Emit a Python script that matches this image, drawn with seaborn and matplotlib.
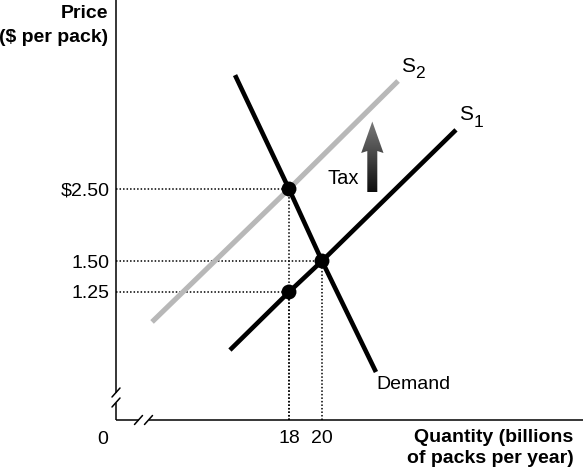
import numpy as np
import pandas as pd
import matplotlib
matplotlib.use('Agg')
import matplotlib.pyplot as plt
import seaborn as sns
from matplotlib.patches import Polygon
from matplotlib.colors import LinearSegmentedColormap

# ---------------- data ----------------
demand_q = [14.73, 18, 20, 23.27]
demand_p = [4.06, 2.50, 1.50, 0.154]
s1_q = [14.42, 18, 20, 28.12]
s1_p = [0.455, 1.25, 1.50, 3.31]
s2_q = [9.70, 18, 24.61]
s2_p = [0.84, 2.50, 3.98]
eq_q = [18, 20, 18]
eq_p = [2.50, 1.50, 1.25]
price_ticks = [1.25, 1.50, 2.50]
price_labels = ['1.25', '1.50', '$2.50']
qty_ticks = [18, 20]
qty_labels = ['18', '20']

# ---------------- style ----------------
sns.set_theme(style='white')
plt.rcParams['font.family'] = ['Liberation Sans', 'DejaVu Sans']
FS = 14

W, H = 583, 473
fig = plt.figure(figsize=(W / 100, H / 100), dpi=100)
fig.patch.set_facecolor('white')

# main axes: spine corner at pixel (116, 420)
ax = fig.add_axes([116 / W, 53 / H, (W - 116) / W, 420 / H])
ax.set_facecolor('none')

# the textbook diagram is not drawn to scale on the price axis:
# piecewise-linear price scale
kp = np.array([-10.0, 1.25, 1.50, 2.50, 10.0])
ku = np.array([128 - 73 * 11.25, 128.0, 159.0, 231.0, 231 + 73 * 7.5])
fwd = lambda p: np.interp(np.asarray(p, dtype=float), kp, ku)
inv = lambda u: np.interp(np.asarray(u, dtype=float), ku, kp)
ax.set_yscale('function', functions=(fwd, inv))

df_d = pd.DataFrame({'q': demand_q, 'p': demand_p})
df_s1 = pd.DataFrame({'q': s1_q, 'p': s1_p})
df_s2 = pd.DataFrame({'q': s2_q, 'p': s2_p})
df_eq = pd.DataFrame({'q': eq_q, 'p': eq_p})

sns.lineplot(data=df_s2, x='q', y='p', sort=False, estimator=None,
             color='#b8b8b8', lw=3.7, ax=ax, solid_capstyle='butt', zorder=2)
sns.lineplot(data=df_s1, x='q', y='p', sort=False, estimator=None,
             color='black', lw=3.3, ax=ax, solid_capstyle='butt', zorder=3)
sns.lineplot(data=df_d, x='q', y='p', sort=False, estimator=None,
             color='black', lw=3.3, ax=ax, solid_capstyle='butt', zorder=3)

xmin = 18 + (116 - 289) / 16.5
xmax = 18 + (583 - 289) / 16.5
ymin, ymax = float(inv(0)), float(inv(420))
ax.set_xlim(xmin, xmax)
ax.set_ylim(ymin, ymax)

# dotted guide lines
for q, p in zip(eq_q, eq_p):
    ax.plot([xmin, q], [p, p], color='black', lw=1.1, ls=(0, (1, 1.3)), zorder=1)
    ax.plot([q, q], [ymin, p], color='black', lw=1.1, ls=(0, (1, 1.3)), zorder=1)

sns.scatterplot(data=df_eq, x='q', y='p', s=115, color='black',
                edgecolor='none', ax=ax, zorder=5)

ax.set_xticks(qty_ticks)
ax.set_xticklabels(qty_labels)
ax.set_yticks(price_ticks)
ax.set_yticklabels(price_labels)
ax.minorticks_off()
ax.tick_params(axis='both', length=0, labelsize=FS, colors='black')
ax.tick_params(axis='y', pad=4.5)
ax.tick_params(axis='x', pad=7.5)
ax.set_xlabel('')
ax.set_ylabel('')
for s in ax.spines.values():
    s.set_visible(False)
ax.grid(False)

# ---------------- overlay in pixel units for decorations ----------------
ov = fig.add_axes([0, 0, 1, 1])
ov.set_xlim(0, W)
ov.set_ylim(H, 0)
ov.axis('off')
ov.patch.set_alpha(0)

lw_ax = 1.1
# y axis with break
ov.plot([116, 116], [0, 392.5], color='black', lw=lw_ax, solid_capstyle='butt')
ov.plot([116, 116], [402.5, 420], color='black', lw=lw_ax, solid_capstyle='butt')
for yc in (392.5, 402.5):
    ov.plot([112, 120], [yc + 4.5, yc - 4.5], color='black', lw=lw_ax)
# x axis with break
ov.plot([116, 138.5], [420, 420], color='black', lw=lw_ax, solid_capstyle='butt')
ov.plot([148.5, W], [420, 420], color='black', lw=lw_ax, solid_capstyle='butt')
for xc in (138.5, 148.5):
    ov.plot([xc - 4, xc + 4], [424.5, 415.5], color='black', lw=lw_ax)

# texts
bold = dict(fontsize=FS, fontweight='bold', color='black', va='baseline', ha='right')
ov.text(108.5, 18, 'Price', **bold)
ov.text(108.5, 41.5, '($ per pack)', **bold)
ov.text(573.5, 442, 'Quantity (billions', **bold)
ov.text(573.5, 463, 'of packs per year)', **bold)
ov.text(103, 444, '0', ha='center', va='baseline', fontsize=FS, color='black')
ov.text(376, 389, 'Demand', ha='left', va='baseline', fontsize=FS, color='black')
ov.text(328, 184, 'Tax', ha='left', va='baseline', fontsize=14.5, color='black')
ov.text(401, 72, 'S', ha='left', va='baseline', fontsize=15, color='black')
ov.text(415.5, 78.5, '2', ha='left', va='baseline', fontsize=12.5, color='black')
ov.text(459, 120, 'S', ha='left', va='baseline', fontsize=15, color='black')
ov.text(473.5, 126.5, '1', ha='left', va='baseline', fontsize=12.5, color='black')

# gradient tax arrow
arrow_pts = [(367.3, 192), (377.3, 192), (377.3, 151), (383.5, 153),
             (372.3, 121.5), (361.2, 153), (367.3, 151)]
poly = Polygon(arrow_pts, closed=True, facecolor='none', edgecolor='none')
ov.add_patch(poly)
cmap = LinearSegmentedColormap.from_list('tax', ['#7a7a7a', '#0c0c0c'])
grad = np.linspace(0, 1, 256).reshape(-1, 1)
im = ov.imshow(grad, extent=(360, 385, 193, 121), cmap=cmap, aspect='auto',
               origin='upper', interpolation='bilinear')
im.set_clip_path(poly)
ov.set_xlim(0, W)
ov.set_ylim(H, 0)

fig.savefig('out.png', dpi=100)
